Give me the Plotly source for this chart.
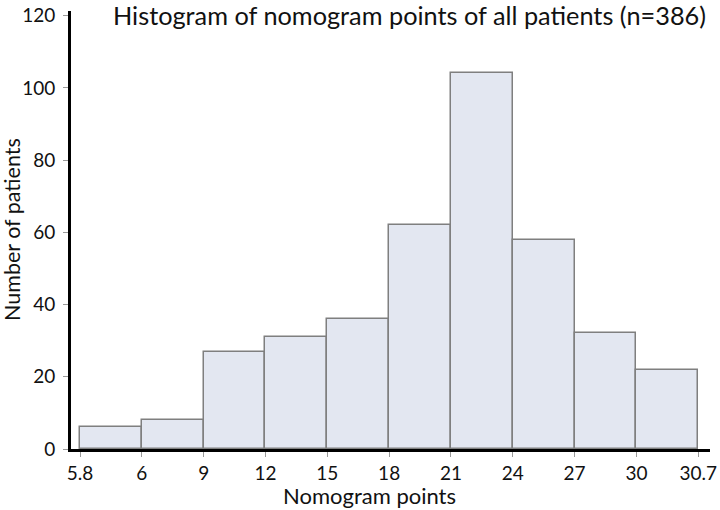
import plotly.graph_objects as go

edge_labels = ["5.8", "6", "9", "12", "15", "18", "21", "24", "27", "30", "30.7"]
counts = [6, 8, 27, 31, 36, 62, 104, 58, 32, 22]

centers = [i + 0.5 for i in range(len(counts))]

fig = go.Figure()
fig.add_trace(go.Bar(
    x=centers, y=counts, width=1.0,
    marker=dict(color="#E3E7F1", line=dict(color="#7F7F7F", width=1.5)),
    showlegend=False, hoverinfo="skip",
))

font_family = "Lato, Open Sans, sans-serif"
plot_w = 720 - 81
plot_h = 438
fig.update_layout(
    width=720, height=510,
    margin=dict(l=71, r=10, t=11, b=61),
    paper_bgcolor="white", plot_bgcolor="white",
    font=dict(family=font_family, size=19, color="#111111"),
    title=dict(text="Histogram of nomogram points of all patients (n=386)",
               x=113 / 720, xanchor="left", y=1 - 16 / 510, yanchor="middle",
               font=dict(size=25.3, color="#111111")),
    bargap=0,
    annotations=[
        dict(text="Nomogram points", xref="paper", yref="paper",
             x=(369 - 71) / plot_w, y=-(495 - 449) / plot_h,
             xanchor="center", yanchor="middle", showarrow=False,
             font=dict(size=22, color="#111111")),
        dict(text="Number of patients", xref="paper", yref="paper",
             x=(12 - 71) / plot_w, y=(449 - 230) / plot_h, textangle=-90,
             xanchor="center", yanchor="middle", showarrow=False,
             font=dict(size=21.5, color="#111111")),
    ],
)
fig.update_xaxes(
    range=[-0.146, 10.19], automargin=False,
    tickmode="array", tickvals=list(range(len(edge_labels))), ticktext=edge_labels,
    ticks="outside", ticklen=5, tickcolor="#999999", tickwidth=1,
    showline=True, linecolor="black", linewidth=3,
    showgrid=False, zeroline=False,
)
fig.update_yaxes(
    range=[0, 121.3], automargin=False,
    tickmode="array", tickvals=[0, 20, 40, 60, 80, 100, 120],
    ticks="outside", ticklen=5, tickcolor="#999999", tickwidth=1,
    ticklabelstandoff=4,
    showline=True, linecolor="black", linewidth=3,
    showgrid=False, zeroline=False,
)

fig.write_html("out.html", config={"displayModeBar": False},
               post_script="document.body.style.margin='0';")
